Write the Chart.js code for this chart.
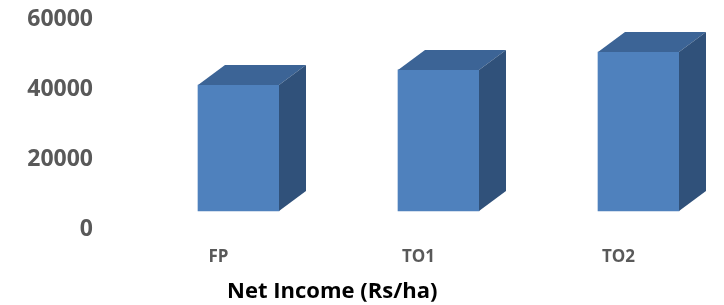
<!DOCTYPE html>
<html>
<head>
<meta charset="utf-8">
<script src="https://cdn.jsdelivr.net/npm/chart.js@4.4.1/dist/chart.umd.min.js"></script>
<style>
  html, body { margin: 0; padding: 0; background: #ffffff; overflow: hidden; }
  #wrap { width: 724px; height: 305px; position: relative; }
</style>
</head>
<body>
<div id="wrap"><canvas id="c" width="724" height="305"></canvas></div>
<script>
const categories = ['FP', 'TO1', 'TO2'];
const netIncome = [36000, 40300, 45400];
const yTickValues = [0, 20000, 40000, 60000];
const axisTitle = 'Net Income (Rs/ha)';

const frontColor = '#4F81BD';
const topColor = '#3C6496';
const sideColor = '#30517A';
const depthX = 27;
const depthY = -20;

const bar3d = {
  id: 'bar3d',
  afterDatasetsDraw(chart) {
    const ctx = chart.ctx;
    const meta = chart.getDatasetMeta(0);
    ctx.save();
    meta.data.forEach(el => {
      const p = el.getProps(['x', 'y', 'base', 'width'], true);
      const l = p.x - p.width / 2, r = p.x + p.width / 2;
      const t = p.y, b = p.base;
      ctx.fillStyle = topColor;
      ctx.beginPath();
      ctx.moveTo(l, t);
      ctx.lineTo(l + depthX, t + depthY);
      ctx.lineTo(r + depthX, t + depthY);
      ctx.lineTo(r, t);
      ctx.closePath();
      ctx.fill();
      ctx.fillStyle = sideColor;
      ctx.beginPath();
      ctx.moveTo(r, t);
      ctx.lineTo(r + depthX, t + depthY);
      ctx.lineTo(r + depthX, b + depthY);
      ctx.lineTo(r, b);
      ctx.closePath();
      ctx.fill();
    });
    ctx.restore();
  }
};

new Chart(document.getElementById('c'), {
  type: 'bar',
  data: {
    labels: categories,
    datasets: [{
      data: netIncome,
      backgroundColor: frontColor,
      borderWidth: 0,
      barThickness: 81,
      clip: false
    }]
  },
  options: {
    responsive: false,
    animation: false,
    layout: { padding: { left: 26, right: 85.5, top: 1, bottom: 0 } },
    plugins: {
      legend: { display: false },
      tooltip: { enabled: false },
      title: {
        display: true,
        position: 'bottom',
        text: axisTitle,
        color: '#000000',
        font: { family: 'Open Sans', size: 22, weight: 'bold' },
        padding: { top: 0, bottom: 0 }
      }
    },
    scales: {
      x: {
        type: 'category',
        offset: false,
        grid: { display: false, drawTicks: false },
        border: { display: false },
        ticks: {
          color: '#595959',
          font: { family: 'Open Sans', size: 17, weight: 'bold' },
          labelOffset: -20,
          padding: 36,
          maxRotation: 0,
          autoSkip: false
        },
        afterFit(scale) { scale.height = 67.6; scale.paddingLeft = 0; scale.paddingRight = 0; }
      },
      y: {
        min: 0,
        max: 60000,
        grid: { display: false, drawTicks: false },
        border: { display: false },
        afterBuildTicks(scale) { scale.ticks = yTickValues.map(v => ({ value: v })); },
        ticks: {
          color: '#595959',
          font: { family: 'Open Sans', size: 23, weight: 'bold' },
          labelOffset: 18.5,
          padding: 145.5,
          callback: v => String(v)
        },
        afterFit(scale) { scale.width = 212.5; scale.paddingTop = 0; scale.paddingBottom = 0; }
      }
    }
  },
  plugins: [bar3d]
});
</script>
</body>
</html>
